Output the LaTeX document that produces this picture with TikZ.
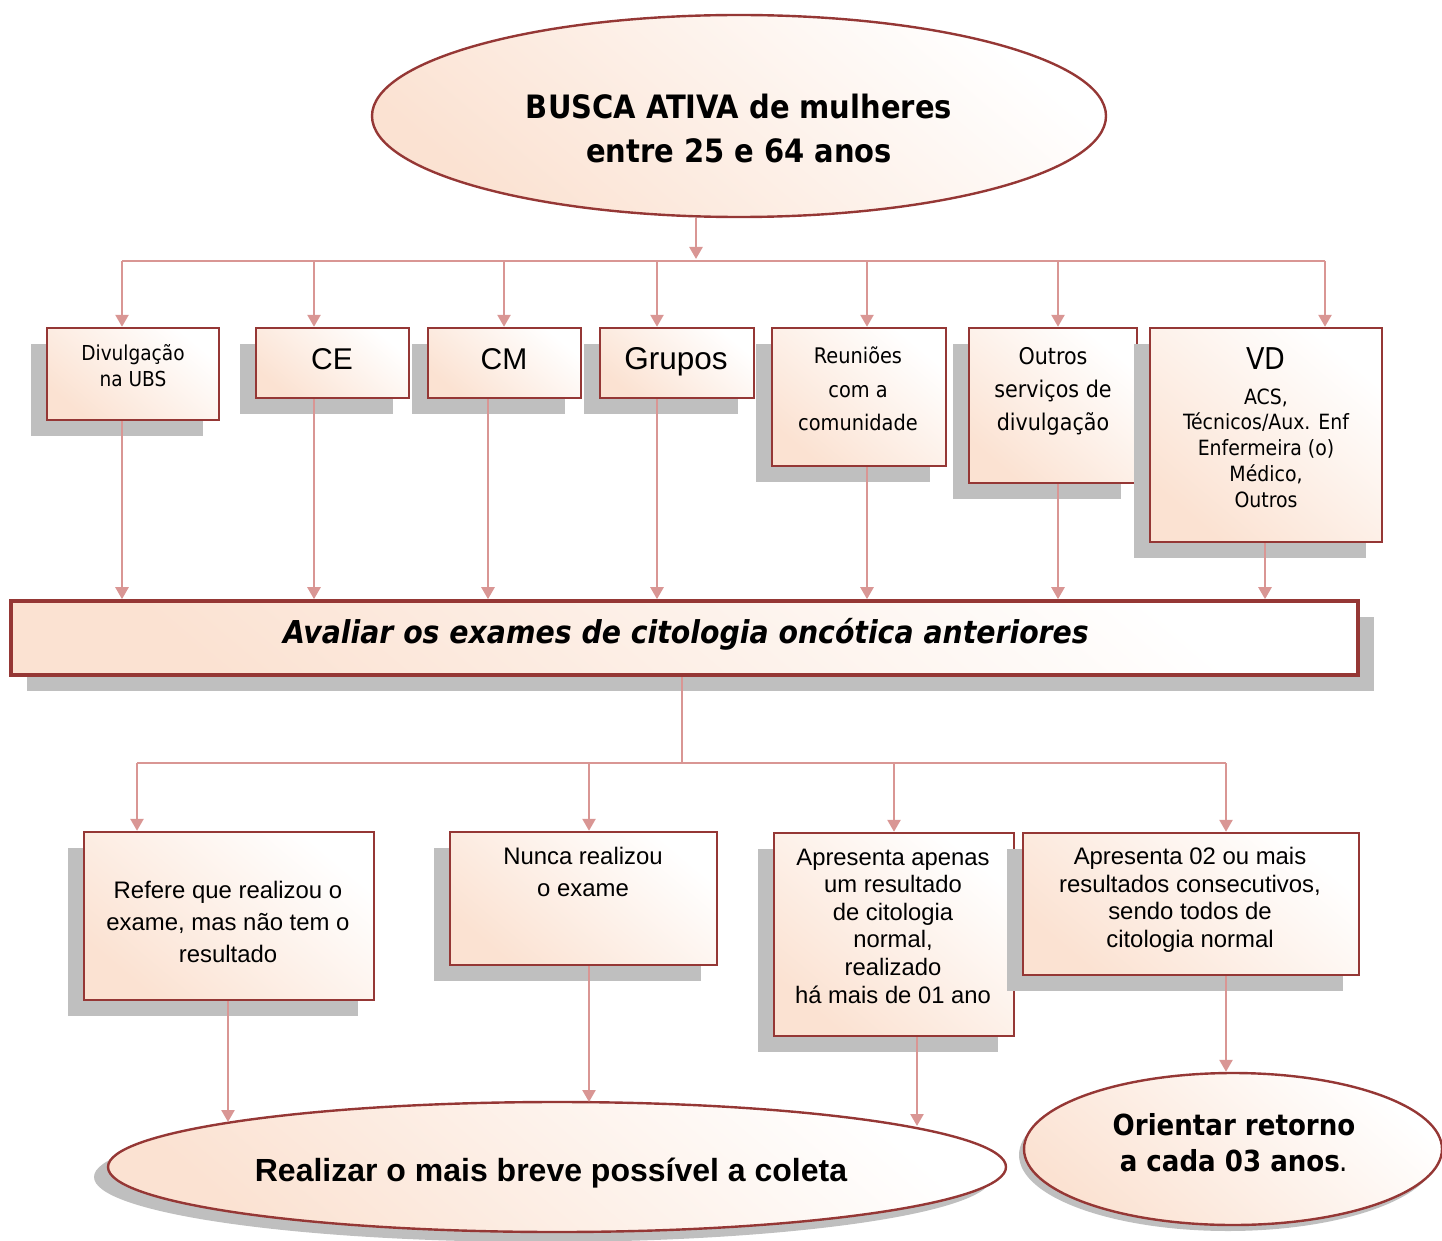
\documentclass[tikz,border=0pt]{standalone}
\usepackage{fontspec}
\setmainfont{DejaVu Sans Condensed}[
  BoldFont={DejaVu Sans Condensed Bold},
  ItalicFont={DejaVu Sans Condensed Oblique},
  BoldItalicFont={DejaVu Sans Condensed Bold Oblique}]
\newfontfamily\arialf{Liberation Sans}
\usetikzlibrary{arrows.meta,shapes.geometric,shadows}

\definecolor{rim}{RGB}{149,55,53}
\definecolor{wire}{RGB}{217,150,148}
\definecolor{shadowgray}{RGB}{191,191,191}
\definecolor{peach}{RGB}{251,226,210}

\newcommand\fsz[2]{\fontsize{#1}{#2}\selectfont}

\tikzset{
  fillgrad/.style={top color=white, bottom color=peach, shading angle=-40},
  boxnode/.style={rectangle, draw=rim, line width=2.4pt, inner sep=0pt, fillgrad},
  lshadow/.style={drop shadow={shadow xshift=-16pt, shadow yshift=-16pt,
      fill=shadowgray, opacity=1}},
  ellnode/.style={ellipse, draw=rim, line width=2.4pt, inner sep=0pt, fillgrad},
  line/.style={draw=wire, line width=2.5pt},
  link/.style={line, -{Triangle[width=13pt,length=12pt]}},
  lbl/.style={align=center, inner sep=0pt, text=black},
  bigword/.style={lbl, font=\arialf\fsz{30}{36}, text height=23pt, text depth=6pt},
}

\begin{document}
\begin{tikzpicture}[x=1pt,y=-1pt]
\useasboundingbox (0,0) rectangle (1442,1241);

% ---------- top ellipse ----------
\node[ellnode, minimum width=734pt, minimum height=202pt] (top) at (739,116) {};
\node[lbl, font=\fsz{32.2}{44}\bfseries] (ttop) at (739,128)
  {BUSCA ATIVA de mulheres\\entre 25 e 64 anos};

% ---------- first row of boxes ----------
\node[boxnode, lshadow, minimum width=172pt, minimum height=92pt]  (d1) at (133,374) {};
\node[boxnode, lshadow, minimum width=153pt, minimum height=70pt]  (d2) at (332.5,363) {};
\node[boxnode, lshadow, minimum width=153pt, minimum height=70pt]  (d3) at (504.5,363) {};
\node[boxnode, lshadow, minimum width=154pt, minimum height=70pt]  (d4) at (677,363) {};
\node[boxnode, lshadow, minimum width=174pt, minimum height=138pt] (d5) at (859,397) {};
\node[boxnode, lshadow, minimum width=168pt, minimum height=155pt] (d6) at (1053,405.5) {};
\node[boxnode, lshadow, minimum width=232pt, minimum height=214pt] (d7) at (1266,435) {};

\node[lbl, font=\fsz{20.6}{26}] (t1) at (133,366) {Divulgação\\na UBS};
\node[bigword] (t2) at (332,361) {CE};
\node[bigword] (t3) at (504,361) {CM};
\node[bigword, font=\arialf\fsz{31.5}{36}] (t4) at (676,361) {Grupos};
\node[lbl, font=\fsz{21.5}{33.5}] (t5) at (858,389) {Reuniões\\com a\\comunidade};
\node[lbl, font=\fsz{23}{33}] (t6) at (1053,391) {Outros\\serviços de\\divulgação};
\node[lbl, font=\fsz{30}{36}] (t7a) at (1266,359) {VD};
\node[lbl, font=\fsz{21}{25.8}] (t7b) at (1266,448)
  {ACS,\\Técnicos/Aux. Enf\\Enfermeira (o)\\Médico,\\Outros};

% ---------- central bar ----------
\node[rectangle, draw=rim, line width=3.6pt, inner sep=0pt, fillgrad,
      drop shadow={shadow xshift=16pt, shadow yshift=-16pt, fill=shadowgray, opacity=1},
      minimum width=1347pt, minimum height=74pt] (av) at (684.5,638) {};
\node[lbl, font=\fsz{31.5}{34}\bfseries\itshape] (tav) at (686,634)
  {Avaliar os exames de citologia oncótica anteriores};

% ---------- second row of boxes ----------
\node[boxnode, lshadow, minimum width=290pt, minimum height=168pt] (r1) at (229,916) {};
\node[boxnode, lshadow, minimum width=267pt, minimum height=133pt] (r2) at (583.5,898.5) {};
\node[boxnode, lshadow, minimum width=240pt, minimum height=203pt] (r3) at (894,934.5) {};
\node[boxnode, lshadow, minimum width=336pt, minimum height=142pt] (r4) at (1191,904) {};

\node[lbl, font=\arialf\fsz{23.9}{32}] (s1) at (228,922)
  {Refere que realizou o\\exame, mas não tem o\\resultado};
\node[lbl, font=\arialf\fsz{23.9}{32}] (s2) at (583,872) {Nunca realizou\\o exame};
\node[lbl, font=\arialf\fsz{23.8}{27.6}] (s3) at (893,926)
  {Apresenta apenas\\um resultado\\de citologia\\normal,\\realizado\\há mais de 01 ano};
\node[lbl, font=\arialf\fsz{23.9}{27.6}] (s4) at (1190,900)
  {Apresenta 02 ou mais\\resultados consecutivos,\\sendo todos de\\citologia normal};

% ---------- final ellipses ----------
\node[ellnode, minimum width=898pt, minimum height=130pt,
      drop shadow={shadow xshift=-14pt, shadow yshift=-10pt, fill=shadowgray, opacity=1}]
  (col) at (557,1167) {};
\node[lbl, font=\arialf\fsz{32}{36}\bfseries] (tcol) at (551,1173)
  {Realizar o mais breve possível a coleta};
\node[ellnode, minimum width=418pt, minimum height=152pt,
      drop shadow={shadow xshift=-5pt, shadow yshift=-6pt, fill=shadowgray, opacity=1}]
  (ori) at (1233,1149) {};
\node[lbl, font=\fsz{29}{36}\bfseries] (tori) at (1234,1143)
  {Orientar retorno\\a cada 03 anos\textmd{.}};

% ---------- upper distribution ----------
\coordinate (b0) at (696,259);
\coordinate (c1) at (122,261);
\coordinate (c2) at (314,261);
\coordinate (c3) at (504,261);
\coordinate (c4) at (657,261);
\coordinate (c5) at (867,261);
\coordinate (c6) at (1058,261);
\coordinate (c7) at (1325,261);
\draw[link] (top.south -| b0) -- (b0);
\draw[line] (c1) -- (c7);
\foreach \i in {1,...,7} \draw[link] (c\i) -- (c\i |- d\i.north);

% ---------- boxes into the central bar ----------
\coordinate (u1) at (122,0);
\coordinate (u2) at (314,0);
\coordinate (u3) at (488,0);
\coordinate (u4) at (657,0);
\coordinate (u5) at (867,0);
\coordinate (u6) at (1058,0);
\coordinate (u7) at (1265,0);
\foreach \i in {1,...,7} \draw[link] (d\i.south -| u\i) -- (av.north -| u\i);

% ---------- lower distribution ----------
\coordinate (m0) at (682,763);
\coordinate (m1) at (137,763);
\coordinate (m2) at (589,763);
\coordinate (m3) at (894,763);
\coordinate (m4) at (1226,763);
\draw[line] (av.south -| m0) -- (m0);
\draw[line] (m1) -- (m4);
\foreach \i in {1,...,4} \draw[link] (m\i) -- (m\i |- r\i.north);

% ---------- results into the outcomes ----------
\coordinate (v1) at (228,1122);
\coordinate (v2) at (589,1102);
\coordinate (v3) at (917,1126);
\coordinate (v4) at (1226,0);
\draw[link] (r1.south -| v1) -- (v1);
\draw[link] (r2.south -| v2) -- (v2);
\draw[link] (r3.south -| v3) -- (v3);
\draw[link] (r4.south -| v4) -- (ori.north -| v4);
\end{tikzpicture}
\end{document}
